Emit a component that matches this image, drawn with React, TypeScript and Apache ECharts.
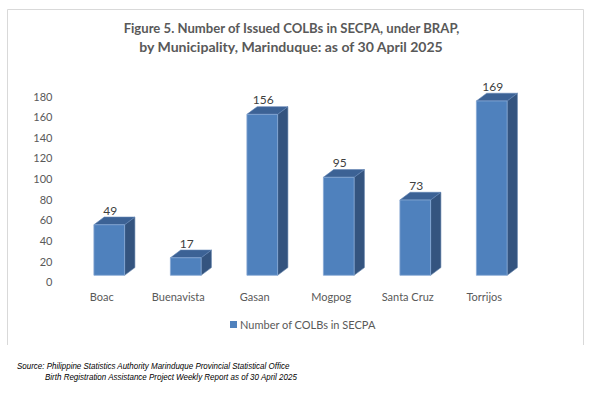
import React, { useEffect, useRef } from "react";
import * as echarts from "echarts";

const categories = ["Boac", "Buenavista", "Gasan", "Mogpog", "Santa Cruz", "Torrijos"];
const colbValues = [49, 17, 156, 95, 73, 169];
const seriesName = "Number of COLBs in SECPA";
const yMin = 0;
const yMax = 180;
const yInterval = 20;
const titleLines = [
  "Figure 5. Number of Issued COLBs in SECPA, under BRAP,",
  "by Municipality, Marinduque: as of 30 April 2025",
];
const sourceLines = [
  "Source: Philippine Statistics Authority Marinduque Provincial Statistical Office",
  "Birth Registration Assistance Project Weekly Report as of 30 April 2025",
];

const FONT = "Lato, 'Noto Sans', sans-serif";

function measure(text: string, font: string): number {
  const c = document.createElement("canvas");
  const ctx = c.getContext("2d");
  if (!ctx) return 1;
  ctx.font = font;
  return ctx.measureText(text).width || 1;
}

export default function App() {
  const ref = useRef<HTMLDivElement>(null);

  useEffect(() => {
    if (!ref.current) return;
    const chart = echarts.init(ref.current, undefined, { renderer: "svg" });

    const titleFont = "bold 14px Lato";
    const srcFont = "italic 9px 'Liberation Sans'";
    const t1w = 337, t2w = 305;
    const s1w = 273, s2w = 253;
    const t1s = t1w / measure(titleLines[0], titleFont);
    const t2s = t2w / measure(titleLines[1], titleFont);
    const s1s = s1w / measure(sourceLines[0], srcFont);
    const s2s = s2w / measure(sourceLines[1], srcFont);

    const OFFX = 7.5;
    const SHIFT = 6.4;
    const W = 30.7;
    const DX = 10.3;
    const DY = 7.7;

    const option: any = {
      animation: false,
      backgroundColor: "#ffffff",
      grid: { left: 63.5, right: 70.5, top: 96, bottom: 113.3, containLabel: false },
      xAxis: {
        type: "category",
        data: categories,
        axisLine: { show: false },
        axisTick: { show: false },
        axisLabel: { color: "#595959", fontSize: 11, fontFamily: FONT, margin: 9 },
        splitLine: { show: false },
      },
      yAxis: {
        type: "value",
        min: yMin,
        max: yMax,
        interval: yInterval,
        axisLine: { show: false },
        axisTick: { show: false },
        axisLabel: { color: "#595959", fontSize: 11, fontFamily: FONT, margin: 11 },
        splitLine: { show: false },
      },
      legend: {
        show: true,
        bottom: 60,
        left: 225,
        itemWidth: 7,
        itemHeight: 7,
        itemGap: 4,
        icon: "rect",
        textStyle: { color: "#595959", fontSize: 11, fontFamily: FONT, padding: [0, 0, 0, -2] },
        data: [{ name: seriesName, itemStyle: { color: "#4f81bd" } }],
      },
      graphic: [
        {
          type: "polyline",
          shape: { points: [[7.5, 345], [7.5, 9.5], [583.5, 9.5], [583.5, 345]] },
          style: { stroke: "#d9d9d9", fill: "none", lineWidth: 1 },
          silent: true,
        },
        {
          type: "text",
          x: 291.5,
          y: 28,
          scaleX: t1s,
          style: {
            text: titleLines[0],
            font: titleFont,
            fill: "#595959",
            align: "center",
            verticalAlign: "middle",
          },
        },
        {
          type: "text",
          x: 291,
          y: 46.5,
          scaleX: t2s,
          style: {
            text: titleLines[1],
            font: titleFont,
            fill: "#595959",
            align: "center",
            verticalAlign: "middle",
          },
        },
        {
          type: "text",
          x: 17,
          y: 366,
          scaleX: s1s,
          style: {
            text: sourceLines[0],
            font: srcFont,
            fill: "#000000",
            align: "left",
            verticalAlign: "middle",
          },
        },
        {
          type: "text",
          x: 45,
          y: 377,
          scaleX: s2s,
          style: {
            text: sourceLines[1],
            font: srcFont,
            fill: "#000000",
            align: "left",
            verticalAlign: "middle",
          },
        },
      ],
      series: [
        {
          name: seriesName,
          type: "custom",
          clip: false,
          itemStyle: { color: "#4f81bd" },
          encode: { x: 0, y: 1 },
          data: colbValues.map((v, i) => [i, v]),
          renderItem: (params: any, api: any) => {
            const i = api.value(0);
            const v = api.value(1);
            const base = api.coord([i, 0]);
            const top = api.coord([i, v]);
            const cx = base[0] + OFFX;
            const x0 = cx - W / 2;
            const x1 = cx + W / 2;
            const yb = base[1] - SHIFT;
            const yt = top[1] - SHIFT;
            return {
              type: "group",
              children: [
                {
                  type: "polygon",
                  shape: { points: [[x1, yb], [x1 + DX, yb - DY], [x1 + DX, yt - DY], [x1, yt]] },
                  style: { fill: "#34547f", stroke: "#5f7fa8", lineWidth: 0.6 },
                },
                {
                  type: "polygon",
                  shape: { points: [[x0, yt], [x0 + DX, yt - DY], [x1 + DX, yt - DY], [x1, yt]] },
                  style: { fill: "#3c6295", stroke: "#5f83b3", lineWidth: 0.6 },
                },
                {
                  type: "rect",
                  shape: { x: x0, y: yt, width: W, height: yb - yt },
                  style: { fill: "#4f81bd", stroke: "#86a8d4", lineWidth: 0.8 },
                },
                {
                  type: "text",
                  style: {
                    text: String(v),
                    x: cx + 1,
                    y: yt - DY - 1,
                    align: "center",
                    verticalAlign: "bottom",
                    fill: "#404040",
                    font: "12px " + FONT,
                  },
                },
              ],
            };
          },
        },
      ],
    };

    chart.setOption(option);
    return () => chart.dispose();
  }, []);

  return (
    <div
      ref={ref}
      style={{ position: "fixed", left: 0, top: 0, width: 593, height: 395 }}
    />
  );
}
